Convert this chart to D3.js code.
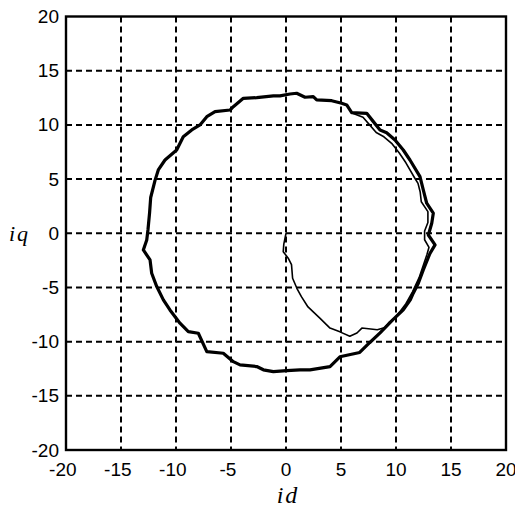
<!DOCTYPE html>
<html>
<head>
<meta charset="utf-8">
<script src="https://cdn.jsdelivr.net/npm/d3@7"></script>
<style>
  html, body { margin: 0; padding: 0; background: #fff; }
  svg { display: block; }
</style>
</head>
<body>
<svg id="chart" width="515" height="512"></svg>
<script>
// valori (id, iq)
const TICKS = [-20, -15, -10, -5, 0, 5, 10, 15, 20];

// traiettoria a regime (cerchio spesso)
const cerchioId = [9.7, 10.66, 11.3, 11.57, 12.03, 12.48, 13.09, 13.55, 12.94, 13.25, 13.39, 12.79, 12.48, 12.18, 11.27, 10.66, 9.91, 9.15, 8.55, 7.94, 7.34, 5.97, 5.52, 5.06, 4.15, 2.79, 2.48, 1.73, 0.97, 0.36, -0.55, -1.15, -2.66, -3.88, -4.79, -5.09, -6.45, -7.2, -7.82, -8.57, -9.34, -9.94, -11.0, -11.61, -11.9, -12.3, -12.4, -12.55, -12.66, -12.97, -12.36, -12.21, -11.75, -11.15, -10.55, -9.64, -8.88, -7.97, -7.2, -5.7, -4.79, -4.18, -2.66, -2.06, -1.15, 0.06, 1.27, 2.18, 4.0, 4.9, 6.7, 7.6, 8.55, 9.7];
const cerchioIq = [-8.0, -7.07, -6.15, -5.53, -4.61, -3.39, -1.85, -1.08, -0.16, 0.92, 1.85, 2.77, 4.0, 5.22, 6.76, 7.68, 8.61, 9.28, 9.53, 10.3, 11.07, 11.13, 11.84, 12.0, 12.23, 12.3, 12.6, 12.55, 12.92, 12.85, 12.67, 12.67, 12.51, 12.45, 11.68, 11.37, 11.22, 10.76, 9.99, 9.53, 8.91, 7.68, 6.76, 5.84, 4.9, 3.3, 1.9, 0.3, -0.62, -1.54, -2.46, -3.69, -4.92, -6.15, -7.08, -8.3, -9.08, -9.23, -10.92, -11.07, -11.85, -12.15, -12.3, -12.6, -12.77, -12.68, -12.6, -12.6, -12.3, -11.4, -11.0, -10.1, -9.2, -8.0];

// transitorio dall'origine + secondo giro sul lato destro (linea sottile)
const spiraleId = [0, -0.2, -0.25, 0.2, 0.5, 0.6, 1.0, 1.4, 2.0, 3.1, 4.0, 4.9, 5.8, 6.45, 6.9, 8.3, 9.0, 9.4, 9.9, 10.3, 10.9, 11.5, 12.1, 12.5, 12.8, 13.0, 12.6, 12.6, 12.9, 12.9, 12.3, 12.2, 12.0, 11.7, 10.9, 10.3, 9.6, 8.9, 8.2, 7.6, 7.0, 6.0];
const spiraleIq = [0, -1.0, -1.7, -2.3, -2.9, -4.15, -5.1, -5.85, -6.8, -7.85, -8.75, -9.1, -9.5, -9.2, -8.75, -8.9, -8.7, -8.2, -7.8, -7.3, -6.5, -5.4, -4.1, -2.9, -2.0, -1.3, -0.6, 0.2, 1.0, 2.0, 2.9, 3.8, 4.6, 5.1, 6.5, 7.4, 8.3, 8.9, 9.3, 10.0, 10.7, 11.1];

const LEFT = 66, RIGHT = 506, TOP = 16.5, BOTTOM = 450;
const FONT = "'Liberation Sans', Arial, sans-serif";

const svg = d3.select("#chart");
const x = d3.scaleLinear().domain([-20, 20]).range([LEFT, RIGHT]);
const y = d3.scaleLinear().domain([-20, 20]).range([BOTTOM, TOP]);

/* ── griglia tratteggiata ─────────────────── */
const grid = svg.append("g");
TICKS.slice(1, -1).forEach(t => {
  grid.append("line")
    .attr("x1", x(t)).attr("x2", x(t))
    .attr("y1", TOP).attr("y2", BOTTOM)
    .attr("stroke", "#000").attr("stroke-width", 2)
    .attr("stroke-dasharray", "6,4");
  grid.append("line")
    .attr("x1", LEFT).attr("x2", RIGHT)
    .attr("y1", y(t)).attr("y2", y(t))
    .attr("stroke", "#000").attr("stroke-width", 2)
    .attr("stroke-dasharray", "6,4");
});

/* ── curve ─────────────────────────────────── */
const line = d3.line()
  .x(d => x(d[0]))
  .y(d => y(d[1]))
  .curve(d3.curveLinear);

svg.append("path")
  .datum(cerchioId.map((v, i) => [v, cerchioIq[i]]))
  .attr("d", line)
  .attr("fill", "none")
  .attr("stroke", "#000")
  .attr("stroke-width", 3.2)
  .attr("stroke-linejoin", "round");

svg.append("path")
  .datum(spiraleId.map((v, i) => [v, spiraleIq[i]]))
  .attr("d", line)
  .attr("fill", "none")
  .attr("stroke", "#000")
  .attr("stroke-width", 1.6)
  .attr("stroke-linejoin", "round");

/* ── riquadro assi ─────────────────────────── */
svg.append("rect")
  .attr("x", LEFT).attr("y", TOP)
  .attr("width", RIGHT - LEFT).attr("height", BOTTOM - TOP)
  .attr("fill", "none").attr("stroke", "#000").attr("stroke-width", 2.4);

/* ── etichette tick ────────────────────────── */
const labels = svg.append("g")
  .attr("font-family", FONT).attr("font-size", 19).attr("fill", "#000");

TICKS.forEach(t => {
  labels.append("text")
    .attr("x", 59).attr("y", y(t))
    .attr("text-anchor", "end")
    .attr("dominant-baseline", "central")
    .text(t);

  // asse x: cifre centrate sul tick, il segno meno sporge a sinistra
  const num = labels.append("text")
    .attr("x", x(t)).attr("y", 476)
    .attr("text-anchor", "middle")
    .text(Math.abs(t));
  if (t < 0) {
    const w = num.node().getComputedTextLength();
    labels.append("text")
      .attr("x", x(t) - w / 2).attr("y", 476)
      .attr("text-anchor", "end")
      .text("-");
  }
});

/* ── titoli assi ───────────────────────────── */
svg.append("text")
  .attr("x", 9).attr("y", 241)
  .attr("font-family", "'Liberation Serif', 'Times New Roman', serif")
  .attr("font-style", "italic").attr("font-size", 22)
  .attr("letter-spacing", 2)
  .text("iq");

svg.append("text")
  .attr("x", 288).attr("y", 503)
  .attr("text-anchor", "middle")
  .attr("font-family", "'Liberation Serif', 'Times New Roman', serif")
  .attr("font-style", "italic").attr("font-size", 24)
  .attr("letter-spacing", 2)
  .text("id");
</script>
</body>
</html>
